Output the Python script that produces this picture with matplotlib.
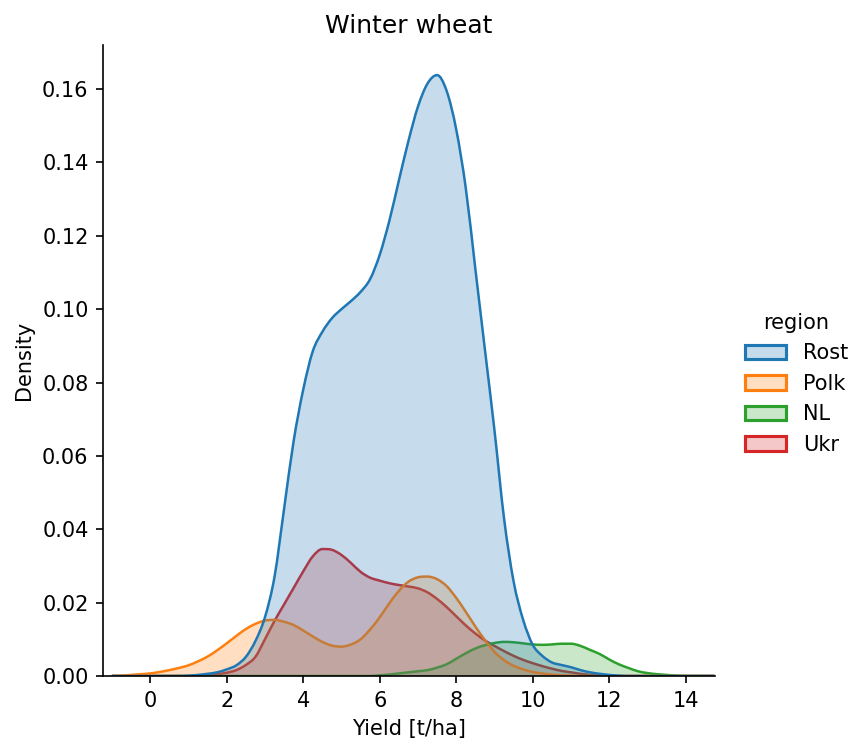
import numpy as np
import matplotlib
matplotlib.use("Agg")
import matplotlib.pyplot as plt
from matplotlib.patches import Patch, PathPatch
from matplotlib.path import Path

# yield grid the densities were read on [t/ha], -1 to 14.75
yield_grid = np.arange(-1.0, 15.0, 0.25)

regions = ["Rost", "Polk", "NL", "Ukr"]
colors = ["#1f77b4", "#ff7f0e", "#2ca02c", "#d62728"]

# density per region along yield_grid (shared norm, so areas differ by sample size)
rost = [0, 0, 0, 0, 0, 0, 0, 0, 0.0001, 0.0003,
        0.0006, 0.0010, 0.0018, 0.0029, 0.0052, 0.0095, 0.0160, 0.0270, 0.0455, 0.0640,
        0.0780, 0.0885, 0.0938, 0.0975, 0.1000, 0.1022, 0.1047, 0.1082, 0.1148, 0.1240,
        0.1350, 0.1458, 0.1552, 0.1615, 0.1638, 0.1595, 0.1490, 0.1330, 0.1110, 0.0890,
        0.0670, 0.0430, 0.0258, 0.0153, 0.0085, 0.0055, 0.0037, 0.0030, 0.0024, 0.0016,
        0.0010, 0.0006, 0.0003, 0.0001, 0, 0, 0, 0, 0, 0,
        0, 0, 0, 0]
polk = [0, 0.0001, 0.0003, 0.0005, 0.0007, 0.0011, 0.0016, 0.0022, 0.0029, 0.0040,
        0.0053, 0.0070, 0.0089, 0.0109, 0.0128, 0.0142, 0.0151, 0.0153, 0.0148, 0.0139,
        0.0124, 0.0108, 0.0093, 0.0083, 0.0080, 0.0086, 0.0100, 0.0127, 0.0160, 0.0198,
        0.0232, 0.0257, 0.0269, 0.0271, 0.0264, 0.0245, 0.0213, 0.0175, 0.0135, 0.0098,
        0.0066, 0.0043, 0.0028, 0.0018, 0.0011, 0.0007, 0.0004, 0.0002, 0.0001, 0,
        0, 0, 0, 0, 0, 0, 0, 0, 0, 0,
        0, 0, 0, 0]
nl = [0, 0, 0, 0, 0, 0, 0, 0, 0, 0,
      0, 0, 0, 0, 0, 0, 0, 0, 0, 0,
      0, 0, 0, 0, 0, 0, 0, 0, 0.0002, 0.0004,
      0.0007, 0.0010, 0.0013, 0.0016, 0.0023, 0.0032, 0.0047, 0.0062, 0.0075, 0.0084,
      0.0090, 0.0093, 0.0092, 0.0089, 0.0086, 0.0085, 0.0086, 0.0088, 0.0088, 0.0082,
      0.0071, 0.0060, 0.0045, 0.0032, 0.0022, 0.0013, 0.0008, 0.0005, 0.0003, 0.0001,
      0, 0, 0, 0]
ukr = [0, 0, 0, 0, 0, 0, 0, 0, 0, 0,
       0.0002, 0.0005, 0.0009, 0.0016, 0.0030, 0.0052, 0.0100, 0.0150, 0.0195, 0.0240,
       0.0285, 0.0326, 0.0346, 0.0344, 0.0330, 0.0308, 0.0284, 0.0268, 0.0260, 0.0253,
       0.0248, 0.0244, 0.0239, 0.0228, 0.0210, 0.0188, 0.0163, 0.0138, 0.0116, 0.0097,
       0.0082, 0.0068, 0.0055, 0.0044, 0.0035, 0.0027, 0.0020, 0.0014, 0.0010, 0.0006,
       0.0003, 0.0001, 0, 0, 0, 0, 0, 0, 0, 0,
       0, 0, 0, 0]

densities = [rost, polk, nl, ukr]


def curve_path(x, y, closed=False):
    # bezier path through the points, tangents flattened at turning points
    x = np.asarray(x, float)
    y = np.asarray(y, float)
    h = np.diff(x)
    d = np.diff(y) / h
    m = np.zeros_like(y)
    same = d[:-1] * d[1:] > 0
    m[1:-1] = np.where(same, (d[:-1] + d[1:]) / 2, 0)
    verts = [(x[0], y[0])]
    codes = [Path.MOVETO]
    for i in range(len(x) - 1):
        verts += [(x[i] + h[i] / 3, y[i] + m[i] * h[i] / 3),
                  (x[i + 1] - h[i] / 3, y[i + 1] - m[i + 1] * h[i] / 3),
                  (x[i + 1], y[i + 1])]
        codes += [Path.CURVE4] * 3
    if closed:
        verts += [(x[-1], 0), (x[0], 0), (x[0], 0)]
        codes += [Path.LINETO, Path.LINETO, Path.CLOSEPOLY]
    return Path(verts, codes)


fig = plt.figure(figsize=(5.68, 4.92), dpi=150)
ax = fig.add_axes([0.121, 0.084, 0.718, 0.855])

# last hue first, like seaborn's layered kde
for name, col, dens in reversed(list(zip(regions, colors, densities))):
    ax.add_patch(PathPatch(curve_path(yield_grid, dens, closed=True),
                           facecolor=col, alpha=0.25, linewidth=0))
    ax.add_patch(PathPatch(curve_path(yield_grid, dens), fill=False,
                           edgecolor=col, linewidth=1.2))

ax.set_xlim(-1.23, 14.76)
ax.set_ylim(0, 0.172)
ax.set_xticks(np.arange(0, 15, 2))
ax.set_xlabel("Yield [t/ha]")
ax.set_ylabel("Density")
ax.set_title("Winter wheat")
ax.spines["top"].set_visible(False)
ax.spines["right"].set_visible(False)

handles = [Patch(facecolor=matplotlib.colors.to_rgba(c, 0.25), edgecolor=c, linewidth=1.5)
           for c in colors]
fig.legend(handles, regions, title="region", frameon=False,
           loc="center left", bbox_to_anchor=(0.852, 0.48))

fig.savefig("out.png", dpi=150)
